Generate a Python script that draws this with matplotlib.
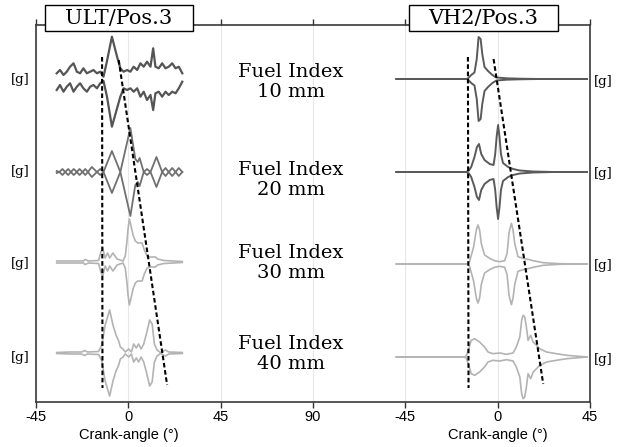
import numpy as np
import matplotlib.pyplot as plt
from matplotlib.patches import Rectangle

# ---------------- data ----------------
# crank angle (deg) and envelope amplitude (arbitrary [g] units)

# ULT / Pos.3, fuel index 10 mm (upper and lower envelope differ)
ult10_ang = [-34.9, -33.3, -31.6, -30.0, -28.4, -26.7, -25.1, -23.5, -21.9, -20.2,
             -18.6, -17.0, -15.3, -13.7, -12.1, -10.4, -8.0, -5.5, -3.9, -2.3,
             -0.6, 1.0, 2.6, 4.3, 5.9, 7.5, 9.1, 10.8, 12.1, 13.2,
             14.8, 16.5, 18.1, 19.7, 21.4, 23.0, 24.6, 26.3]
ult10_up = [7.7, 11.0, 6.0, 9.3, 14.3, 17.7, 9.3, 7.7, 12.7, 7.7,
            9.3, 11.0, 7.7, 9.3, 4.3, 20.0, 44.3, 24.3, 12.7, 9.3,
            11.0, 9.3, 14.3, 11.0, 17.7, 14.3, 19.3, 14.3, 32.7, 14.3,
            12.7, 17.7, 12.7, 14.3, 17.7, 12.7, 14.3, 7.7]
ult10_lo = [9.0, 4.0, 10.7, 5.7, 2.3, 10.7, 5.7, 2.3, 7.3, 10.7,
            5.7, 4.0, 7.3, 2.3, 0.0, 15.7, 45.7, 27.3, 15.7, 7.3,
            9.0, 7.3, 10.7, 7.3, 15.7, 10.7, 19.0, 14.0, 29.0, 12.3,
            10.7, 15.7, 10.7, 14.0, 10.7, 12.3, 7.3, 0.7]

# ULT / Pos.3, fuel index 20 mm
ult20_ang = [-34.9, -33.6, -32.1, -30.8, -29.3, -28.0, -26.6, -25.1, -23.8, -22.3,
             -21.0, -19.7, -17.8, -15.3, -13.7, -12.1, -8.0, -3.9, 1.0, 3.4,
             4.6, 5.5, 7.5, 9.1, 10.8, 13.7, 16.5, 18.1, 19.7, 21.4,
             23.0, 24.6, 26.3]
ult20_env = [1, 0, 3, 0, 3, 0, 3, 0, 3, 0,
             3, 0, 5, 0, 3, 0, 21, 0, 44, 13,
             10, 14, 0, 3, 0, 15, 0, 4, 0, 4,
             0, 4, 0]

# ULT / Pos.3, fuel index 30 mm
ult30_ang = [-34.9, -28.4, -21.9, -21.1, -19.4, -14.5, -13.4, -12.5, -11.3, -10.1,
             -9.1, -7.5, -5.5, -2.6, -1.5, -0.7, -0.2, 0.5, 1.1, 2.3,
             3.4, 4.6, 6.7, 7.8, 9.1, 10.8, 13.2, 14.3, 17.3, 26.3]
ult30_env = [1, 1, 1, 2.5, 1, 1.5, 10, 14, 4, 9,
             4, 9, 3, 1, 6, 20, 32, 43, 38, 27,
             21, 19, 19, 12, 6, 5, 5, 3, 1.5, 0.5]

# ULT / Pos.3, fuel index 40 mm
ult40_ang = [-34.9, -28.4, -22.7, -21.4, -19.9, -14.5, -12.9, -11.3, -9.1, -7.5,
             -6.0, -4.7, -3.9, -2.6, -1.5, 0.2, 1.5, 2.6, 3.9, 5.0,
             6.2, 7.5, 8.8, 10.4, 11.6, 12.7, 14.0, 15.6, 18.1, 19.7, 26.3]
ult40_env = [0.5, 1, 1, 2.5, 1, 1.5, 8, 28, 43, 28,
             18, 12, 6, 4, 1, 4, 1, 9, 5, 9,
             4, 9, 19, 33, 29, 9, 3, 0.5, 3, 1, 0.5]

# VH2 / Pos.3, fuel index 10 mm
vh10_ang = [-49.4, -15.3, -14.5, -12.9, -11.3, -10.2, -9.3, -8.3, -7.5, -6.4,
            -4.7, -2.6, -0.6, 4.3, 10.8, 20.0, 43.5]
vh10_env = [0, 0, 0.5, 4, 6.5, 20, 42, 40, 25, 12,
            8, 4, 1.5, 0.7, 0.3, 0, 0]

# VH2 / Pos.3, fuel index 20 mm
vh20_ang = [-49.4, -15.3, -14.0, -12.9, -11.3, -10.1, -9.1, -8.0, -6.4, -3.9,
            -2.0, -1.2, -0.5, 0.2, 0.9, 1.6, 2.6, 5.1, 7.5, 10.8,
            17.3, 27.1, 43.5]
vh20_env = [0, 0, 1.5, 5, 15, 25, 28, 18, 12, 8,
            7, 18, 35, 47, 35, 18, 9, 5, 3, 1.5,
            0.5, 0, 0]

# VH2 / Pos.3, fuel index 30 mm
vh30_ang = [-49.4, -14.5, -13.7, -11.7, -10.4, -9.6, -8.8, -8.0, -6.4, -3.9,
            -1.5, 1.0, 3.4, 4.6, 5.5, 6.7, 7.5, 8.3, 9.9, 12.4,
            14.8, 17.3, 22.2, 30.3, 43.5]
vh30_env = [0, 0, 2.3, 17.3, 34, 39, 34, 20.7, 9, 5.7,
            3.3, 2.3, 3.3, 10.7, 30.7, 40.7, 34, 20.7, 7.3, 5.7,
            4.7, 3.3, 1.3, 0.3, 0]

# VH2 / Pos.3, fuel index 40 mm
vh40_ang = [-49.4, -16.5, -15.3, -14.3, -12.9, -11.2, -8.8, -6.4, -4.7, -2.3,
            1.0, 4.3, 7.5, 9.1, 10.8, 11.7, 12.4, 13.2, 14.0, 14.8,
            16.1, 17.3, 18.9, 20.5, 23.8, 28.7, 33.6, 43.5]
vh40_env = [0, 0, 1.0, 6.7, 16.7, 18.3, 15, 10, 5, 3.3,
            4, 2.7, 4, 10, 20, 36.7, 41.7, 40, 30, 16.7,
            21.7, 15, 11.7, 8.3, 5, 3.3, 1.7, 0]

ult_base = [321, 230, 140, 49]
vh2_base = [323, 230, 138, 45]
vh2_shift = 180  # right block sits on the same axis, shifted by 180 deg

fuel_labels = ["Fuel Index\n10 mm", "Fuel Index\n20 mm", "Fuel Index\n30 mm", "Fuel Index\n40 mm"]
fuel_y = [320, 222, 139, 48]
g_left_y = [323, 231, 139, 44]
g_right_y = [321, 229, 137, 43]

# dashed guide lines (angle, level)
ult_dash_l = ([-12.8, -12.6], [345, 14])
ult_dash_r = ([-4.7, 18.9], [342, 17])
vh2_dash_l = ([-14.5, -14.2], [345, 14])
vh2_dash_r = ([-2.0, 22.2], [343, 18])

tick_pos = [-45, 0, 45, 90, 135, 180, 225]
tick_lab = ['-45', '0', '45', '90', '-45', '0', '45']

serif = ['DejaVu Serif']
sans = ['Liberation Sans', 'DejaVu Sans']

# ---------------- plot ----------------
fig = plt.figure(figsize=(6.21, 4.47), dpi=100)
ax = fig.add_axes([36/621, 45/447, 554/621, 377/447])
ax.set_xlim(-45, 225)
ax.set_ylim(0, 377)


def draw_env(ang, up, lo, base, shift, color, lw):
    x = np.array(ang) + shift
    ax.plot(x, base + np.array(up), color=color, lw=lw, solid_joinstyle='round', zorder=3)
    ax.plot(x, base - np.array(lo), color=color, lw=lw, solid_joinstyle='round', zorder=3)


draw_env(ult10_ang, ult10_up, ult10_lo, ult_base[0], 0, '#555555', 1.6)
draw_env(ult20_ang, ult20_env, ult20_env, ult_base[1], 0, '#707070', 1.3)
draw_env(ult30_ang, ult30_env, ult30_env, ult_base[2], 0, '#b3b3b3', 1.2)
draw_env(ult40_ang, ult40_env, ult40_env, ult_base[3], 0, '#b3b3b3', 1.2)

draw_env(vh10_ang, vh10_env, vh10_env, vh2_base[0], vh2_shift, '#5a5a5a', 1.4)
draw_env(vh20_ang, vh20_env, vh20_env, vh2_base[1], vh2_shift, '#5a5a5a', 1.4)
draw_env(vh30_ang, vh30_env, vh30_env, vh2_base[2], vh2_shift, '#b3b3b3', 1.2)
draw_env(vh40_ang, vh40_env, vh40_env, vh2_base[3], vh2_shift, '#b3b3b3', 1.2)

dash = (0, (2.2, 1.3))
for (a, y), sh in [(ult_dash_l, 0), (ult_dash_r, 0), (vh2_dash_l, vh2_shift), (vh2_dash_r, vh2_shift)]:
    ax.plot(np.array(a) + sh, y, color='black', lw=1.5, linestyle=dash, zorder=4)

for lab, y in zip(fuel_labels, fuel_y):
    ax.text(79.3, y, lab, ha='center', va='center', fontsize=14,
            family=serif, linespacing=1.15, zorder=5)

for y in g_left_y:
    ax.text(-52.8, y, '[g]', ha='center', va='center', fontsize=9.5, family=serif, clip_on=False)
for y in g_right_y:
    ax.text(231.3, y, '[g]', ha='center', va='center', fontsize=9.5, family=serif, clip_on=False)

# title boxes over the top spine
for x0, x1, title in [(-40.6, 31.5, 'ULT/Pos.3'), (136.8, 209.4, 'VH2/Pos.3')]:
    ax.add_patch(Rectangle((x0, 371), x1 - x0, 26, facecolor='white', edgecolor='black',
                           lw=1.0, clip_on=False, zorder=6))
    ax.text((x0 + x1) / 2, 384, title, ha='center', va='center', fontsize=15,
            family=serif, clip_on=False, zorder=7)

ax.text(0, -33, 'Crank-angle (°)', ha='center', va='center', fontsize=10.5, family=sans, clip_on=False)
ax.text(180, -33, 'Crank-angle (°)', ha='center', va='center', fontsize=10.5, family=sans, clip_on=False)

ax.set_xticks(tick_pos)
ax.set_xticklabels(tick_lab, family=sans, fontsize=10.5)
ax.set_yticks([])
ax.tick_params(axis='x', direction='out', length=4, width=1, top=True, pad=1.5, color='#333333')
ax.grid(axis='x', color='#e8e8e8', lw=0.8, zorder=0)
ax.set_axisbelow(True)
for s in ax.spines.values():
    s.set_color('#3a3a3a')
    s.set_linewidth(1.2)

fig.savefig('out.png', dpi=100)
